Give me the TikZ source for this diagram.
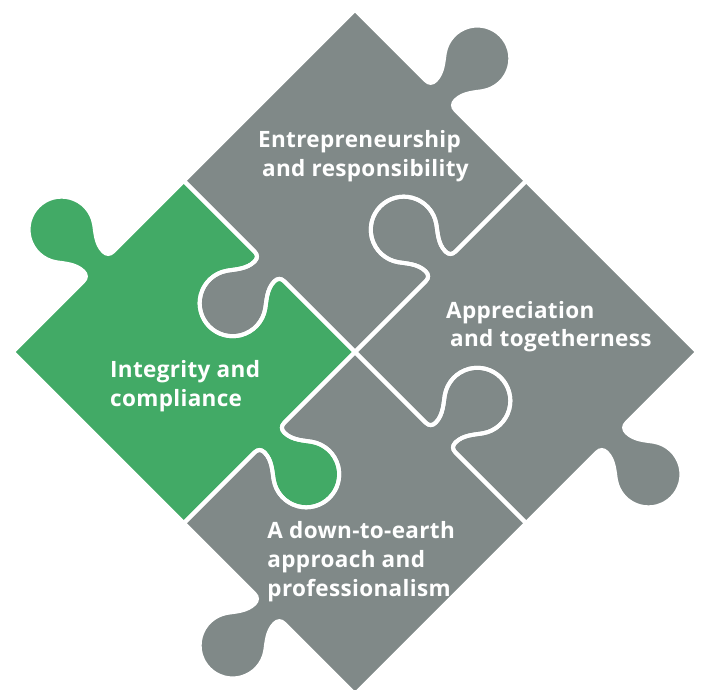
\documentclass[tikz,border=0pt]{standalone}
\usepackage{fontspec}
\setmainfont{Open Sans}
\newfontfamily\labelfont{Open Sans}[LetterSpace=1.5]
\definecolor{pgray}{RGB}{128,137,136}
\definecolor{pgreen}{RGB}{66,170,102}
\tikzset{
  tabR/.style={shift={(242,121)},rotate=-90},
  tabB/.style={shift={(121,0)},xscale=-1},
  tabL/.style={shift={(0,121)},rotate=90},
  ptext/.style={anchor=base west,inner sep=0pt,text=white,font=\labelfont\fontsize{22.5}{27}\selectfont\bfseries},
  seam/.style={draw=white,line width=4pt}
}
\newcommand\puzzletab[1]{-- ([#1]-21,0) .. controls ([#1]-16.5,0) and ([#1]-14,2.5) .. ([#1]-14,7)
  .. controls ([#1]-14,18) and ([#1]-22.443,26.519) .. ([#1]-27.032,33.072)
  .. controls ([#1]-34.388,43.578) and ([#1]-34.992,57.393) .. ([#1]-28.579,68.5)
  .. controls ([#1]-22.684,78.71) and ([#1]-11.79,85) .. ([#1]0,85)
  .. controls ([#1]11.79,85) and ([#1]22.684,78.71) .. ([#1]28.579,68.5)
  .. controls ([#1]34.992,57.393) and ([#1]34.388,43.578) .. ([#1]27.032,33.072)
  .. controls ([#1]22.443,26.519) and ([#1]14,18) .. ([#1]14,7)
  .. controls ([#1]14,2.5) and ([#1]16.5,0) .. ([#1]21,0)}
\newcommand\piecepath{(0,242) -- (242,242) \puzzletab{tabR} -- (242,0) \puzzletab{tabB} -- (0,0) \puzzletab{tabL} -- cycle}
\begin{document}
\begin{tikzpicture}[x=1pt,y=1pt]
\useasboundingbox (-355,-338) rectangle (350,352);
\begin{scope}[rotate=45]
  \foreach \ang/\col in {0/pgray,-90/pgray,-180/pgray,90/pgreen}{
    \fill[\col,rotate=\ang] \piecepath;
  }
  \foreach \ang in {0,-90,-180,90}{
    \path[seam,rotate=\ang] \piecepath;
  }
\end{scope}
\node[ptext] (t1a) at (-97,204) {Entrepreneurship};
\node[ptext] (t1b) at (-93,175.3) {and responsibility};
\node[ptext] (t2a) at (-245,-25.3) {Integrity and};
\node[ptext] (t2b) at (-245,-54.7) {compliance};
\node[ptext] (t3a) at (91,33.7) {Appreciation};
\node[ptext] (t3b) at (95,5.3) {and togetherness};
\node[ptext] (t4a) at (-87.7,-186.3) {A down-to-earth};
\node[ptext] (t4b) at (-87.7,-215.7) {approach and};
\node[ptext] (t4c) at (-87.7,-244.7) {professionalism};
\end{tikzpicture}
\end{document}
